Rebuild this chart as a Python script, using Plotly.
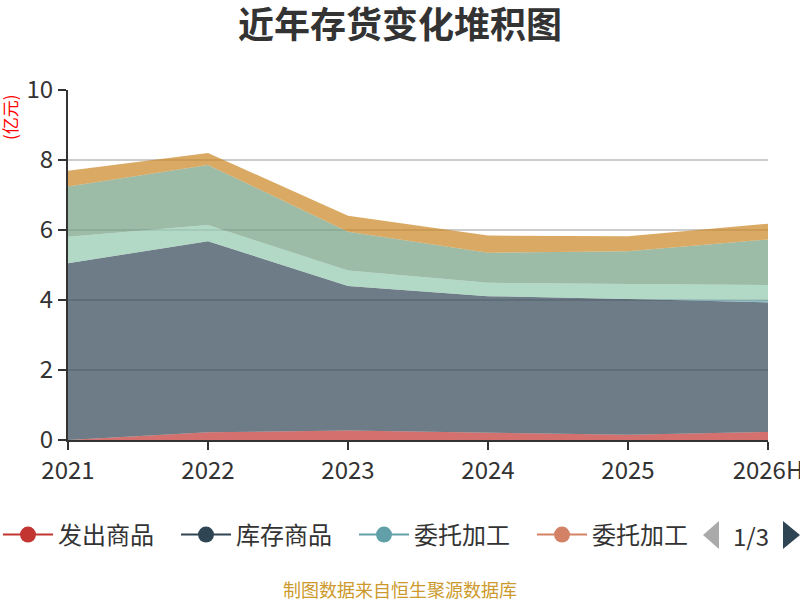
import plotly.graph_objects as go

# categories
years = ["2021", "2022", "2023", "2024", "2025", "2026H"]

# series values (亿元), stacked bottom -> top
fachu = [0.0, 0.22, 0.27, 0.22, 0.15, 0.23]          # 发出商品
kucun = [5.05, 5.46, 4.13, 3.89, 3.88, 3.70]         # 库存商品
weituo1 = [0.0, 0.0, 0.0, 0.0, 0.0, 0.07]            # 委托加工
weituo2 = [0.0, 0.0, 0.0, 0.0, 0.0, 0.0]             # 委托加工
s5 = [0.76, 0.46, 0.44, 0.38, 0.43, 0.43]
s6 = [1.43, 1.72, 1.11, 0.86, 0.93, 1.30]
s7 = [0.45, 0.34, 0.46, 0.49, 0.43, 0.45]

names = ["发出商品", "库存商品", "委托加工", "委托加工", "原材料", "在产品", "周转材料"]
colors = ["#c23531", "#2f4554", "#61a0a8", "#d48265", "#91c7ae", "#749f83", "#ca8622"]
series = [fachu, kucun, weituo1, weituo2, s5, s6, s7]

FONT = "Noto Sans CJK SC"


def rgba(hexc, a):
    h = hexc.lstrip("#")
    return "rgba(%d,%d,%d,%s)" % (int(h[0:2], 16), int(h[2:4], 16), int(h[4:6], 16), a)


xs = list(range(len(years)))
fig = go.Figure()

for nm, col, vals in zip(names, colors, series):
    fig.add_trace(go.Scatter(
        x=xs, y=vals, name=nm, stackgroup="one", mode="lines",
        line=dict(width=0, color=col), fillcolor=rgba(col, 0.7),
        showlegend=False,
    ))

# legend page 1 (line + circle icons)
for nm, col in zip(names[:4], colors[:4]):
    fig.add_trace(go.Scatter(
        x=[None], y=[None], name=nm, mode="lines+markers",
        line=dict(color=col, width=2), marker=dict(color=col, size=18),
    ))

# plot area pixels: x 68..768, y 90..440
def px(x):
    return (x - 68) / 700.0


def py(y):
    return (440 - y) / 350.0


shapes = [
    dict(type="path", xref="paper", yref="paper", line=dict(width=0), fillcolor="#aaaaaa",
         path="M %f %f L %f %f L %f %f Z" % (px(703), py(535), px(719), py(521), px(719), py(549))),
    dict(type="path", xref="paper", yref="paper", line=dict(width=0), fillcolor="#2f4554",
         path="M %f %f L %f %f L %f %f Z" % (px(800), py(535), px(783), py(521), px(783), py(549))),
]

fig.update_layout(
    width=800, height=600,
    margin=dict(l=68, r=32, t=90, b=160, autoexpand=False),
    paper_bgcolor="white", plot_bgcolor="white",
    font=dict(family=FONT, color="#333333"),
    title=dict(text="<b>近年存货变化堆积图</b>", x=0.5, xanchor="center", y=1 - 25 / 600, yanchor="middle",
               font=dict(size=36, color="#333333", family=FONT)),
    xaxis=dict(
        tickvals=xs, ticktext=years, range=[0, 5],
        showgrid=False, zeroline=False, automargin=False, ticklabeloverflow="allow",
        showline=True, linecolor="#333333", linewidth=2,
        ticks="outside", ticklen=8, tickwidth=2, tickcolor="#333333",
        tickfont=dict(size=24, color="#333333"),
    ),
    yaxis=dict(
        range=[0, 10], tickvals=[0, 2, 4, 6, 8, 10], automargin=False,
        showgrid=True, gridcolor="#cccccc", gridwidth=1.5, zeroline=False,
        showline=True, linecolor="#333333", linewidth=2,
        ticks="outside", ticklen=8, tickwidth=2, tickcolor="#333333",
        tickfont=dict(size=24, color="#333333"),
    ),
    showlegend=True,
    legend=dict(
        orientation="h", x=px(-2), xanchor="left", y=py(535), yanchor="middle",
        font=dict(size=24, color="#333333", family=FONT),
        itemwidth=50, entrywidth=113, entrywidthmode="pixels",
        bgcolor="rgba(0,0,0,0)", traceorder="normal",
    ),
    shapes=shapes,
    annotations=[
        dict(text="(亿元)", xref="paper", yref="paper", x=px(9), y=py(117), textangle=-90,
             showarrow=False, font=dict(size=17, color="red", family=FONT),
             xanchor="center", yanchor="middle"),
        dict(text="1/3", xref="paper", yref="paper", x=px(751), y=py(535),
             showarrow=False, font=dict(size=24, color="#333333", family=FONT),
             xanchor="center", yanchor="middle"),
        dict(text="制图数据来自恒生聚源数据库", xref="paper", yref="paper", x=px(400), y=py(589),
             showarrow=False, font=dict(size=18, color="#cc9a2c", family=FONT),
             xanchor="center", yanchor="middle"),
    ],
)

fig.write_html("out.html", config={"displayModeBar": False},
               post_script="document.body.style.margin='0';document.body.style.overflow='hidden';")
